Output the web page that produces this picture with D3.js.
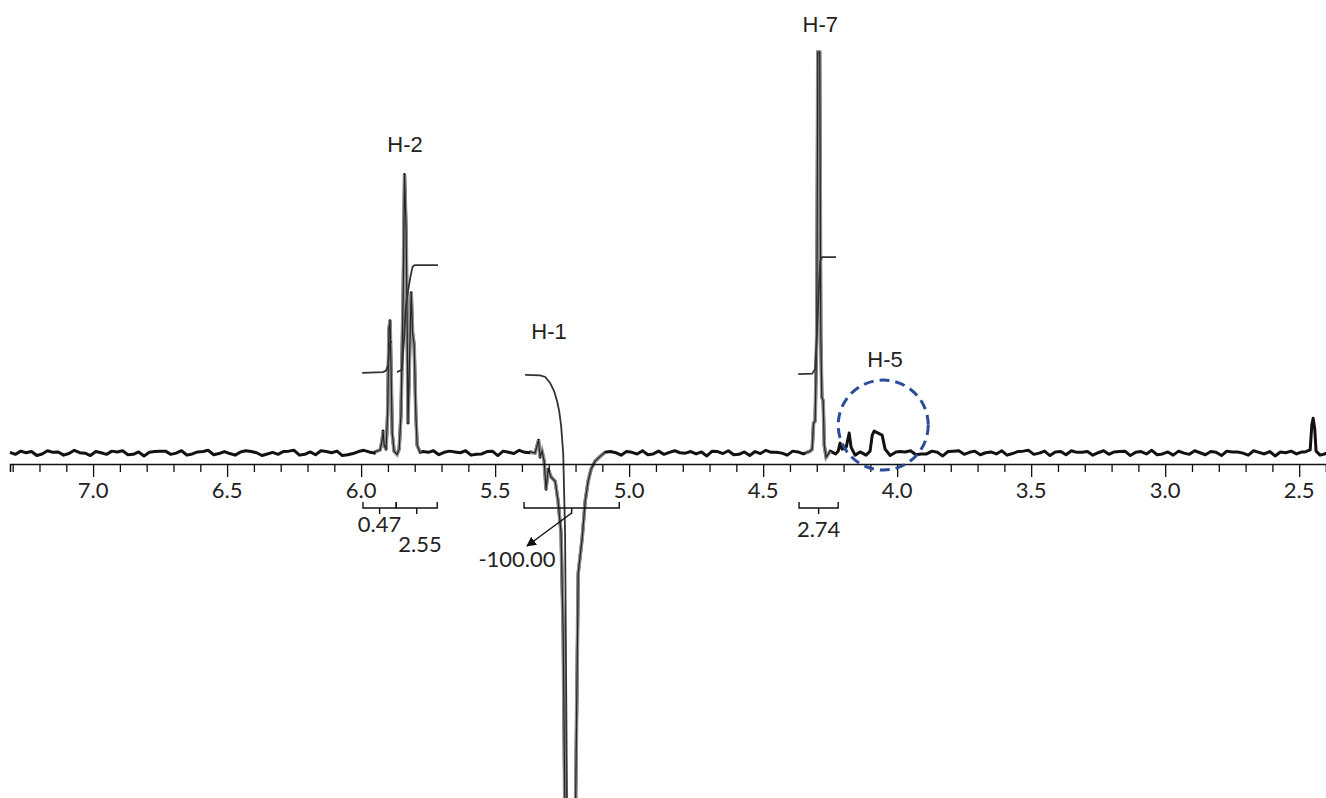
<!DOCTYPE html>
<html>
<head>
<meta charset="utf-8">
<script src="https://cdn.jsdelivr.net/npm/d3@7"></script>
<style>
  body { margin: 0; background: #fff; }
  svg { display: block; }
  .tick-label, .int-label { font-family: Lato, 'Open Sans', sans-serif; font-size: 22px; fill: #222; }
  .peak-label { font-family: 'Liberation Sans', Arial, sans-serif; font-size: 22px; fill: #222; }
</style>
</head>
<body>
<svg width="1326" height="798"></svg>
<script>
// chemical shift window (ppm, reversed) and intensity window
var ppmRange = [7.31, 2.40];
var intRange = [-86, 113];

// baseline noise, one value every 0.02 ppm starting at 7.31 ppm
var noiseStart = 7.31, noiseStep = 0.02;
var noise = [
  0.2,-0.3,0.5,0.1,0.4,-0.6,-0.2,0.6,0.2,0.3,-0.5,-0.1,0.7,0.1,0.0,-0.6,0.4,0.1,-0.3,0.5,
  0.3,0.6,-0.4,-0.3,0.3,-0.7,0.2,0.4,0.5,0.5,-0.3,0.0,0.6,-0.5,-0.2,0.3,0.4,0.7,-0.4,-0.1,
  0.4,-0.1,-0.5,0.3,0.6,0.4,0.1,-0.6,-0.2,0.2,-0.3,0.4,0.5,0.7,-0.5,-0.3,0.3,-0.4,0.6,0.4,
  0.1,0.5,-0.6,-0.4,-0.1,0.4,0.7,0.3,0.0,0.5,-0.5,-0.2,0.6,0.4,0.3,-0.7,-0.1,0.4,0.2,0.6,
  -0.4,0.2,0.5,0.3,0.1,0.6,-0.5,-0.3,-0.2,0.4,0.5,-0.6,0.5,0.2,-0.1,0.7,0.2,0.1,0.4,-0.5,
  0.3,-0.2,0.6,0.4,-0.4,0.5,0.2,-0.6,-0.3,-0.1,0.3,0.7,0.4,0.1,-0.5,0.4,0.2,-0.2,0.6,-0.4,
  -0.2,0.5,-0.3,0.2,0.6,0.1,0.0,0.4,-0.2,0.3,-0.7,0.5,0.4,-0.1,0.6,-0.4,-0.3,0.3,-0.6,0.4,
  -0.1,0.7,0.2,0.2,0.0,-0.5,0.5,0.3,-0.2,0.6,0.3,0.1,0.4,-0.6,-0.2,0.5,0.4,0.3,-0.5,0.6,
  0.0,-0.3,0.4,0.2,-0.6,0.5,0.4,0.3,0.6,-0.4,-0.2,-0.2,0.5,0.2,-0.7,0.4,0.5,0.6,-0.3,0.2,
  0.5,-0.4,0.1,0.3,-0.2,0.6,-0.5,-0.1,0.4,0.5,0.7,-0.3,0.0,0.5,-0.6,0.3,0.4,-0.4,0.6,0.2,
  0.2,0.4,-0.5,0.1,0.6,-0.3,0.3,0.4,0.5,-0.6,0.2,0.4,-0.2,0.7,-0.4,-0.2,0.3,-0.5,0.5,0.0,
  -0.3,0.6,0.1,-0.4,0.4,0.2,-0.6,0.5,0.3,0.3,0.0,-0.5,0.6,0.2,-0.2,0.4,-0.7,0.3,0.1,0.5,
  -0.2,0.3,-0.4,0.6,0.1,-0.3,0.2
];

// signal regions [ppm, intensity]
var h2Peaks = [[5.948,0.3],[5.929,0.8],[5.922,3],[5.918,5.5],[5.914,2],[5.907,1],[5.901,10],
  [5.896,31],[5.892,33],[5.888,20],[5.884,5],[5.877,0.5],[5.866,-0.3],[5.858,1],[5.851,10],
  [5.843,40],[5.838,69.5],[5.832,55],[5.828,30],[5.825,7.5],[5.819,25],[5.813,40],[5.808,30],
  [5.802,27],[5.796,10],[5.791,2],[5.780,0.2]];
var h1Peak = [[5.369,0.3],[5.351,0],[5.343,2],[5.338,3.2],[5.332,-1],[5.325,0.5],[5.317,-2],
  [5.310,-9],[5.302,-4],[5.291,-6],[5.276,-7],[5.265,-12],[5.254,-20],[5.246,-45],[5.239,-95],
  [5.201,-95],[5.190,-30],[5.175,-21],[5.164,-12],[5.153,-7],[5.142,-4],[5.127,-2],[5.108,-0.8],
  [5.090,0.2]];
var h7Peak = [[4.343,0],[4.325,0.5],[4.317,1],[4.312,7.5],[4.306,8],[4.300,30],[4.296,100],
  [4.289,100],[4.285,30],[4.281,14],[4.276,13],[4.272,2],[4.265,-1],[4.250,0.5]];
var h5Peaks = [[4.220,0.5],[4.213,2.5],[4.205,1],[4.190,1.5],[4.179,5],[4.172,1.5],[4.157,-0.5],
  [4.138,0.3],[4.116,-0.5],[4.101,0.5],[4.093,4.5],[4.086,5.5],[4.071,5],[4.056,4.5],[4.045,1],
  [4.026,-0.6],[4.004,0.3]];
var smallPeak = [[2.478,0.3],[2.459,0.8],[2.453,7],[2.448,8.7],[2.442,6],[2.437,0.5],[2.422,-0.5]];
var signals = [h2Peaks, h1Peak, h7Peak, h5Peaks, smallPeak];

// integral traces [ppm, intensity]
var int047 = [[5.996,20],[5.918,20.2],[5.907,20.6],[5.899,22],[5.896,26],[5.892,27.5],[5.885,27.8]];
var int255 = [[5.866,20.2],[5.848,20.8],[5.840,28],[5.834,36],[5.826,40],[5.816,44],[5.808,46.5],
  [5.800,46.9],[5.713,46.9]];
var intH1 = [[5.388,19.5],[5.332,19.4],[5.313,19],[5.295,17.5],[5.280,15.5],[5.269,13],[5.261,10.5],
  [5.254,7],[5.246,0],[5.239,-20],[5.231,-95]];
var intH7 = [[4.369,19.7],[4.317,19.8],[4.306,21],[4.299,30],[4.293,40],[4.287,48],[4.280,48.9],
  [4.228,48.9]];
var integrals = [int047, int255, intH1, intH7];

// integration brackets
var bracketFrom = [5.993, 5.869, 5.392, 4.366];
var bracketTo = [5.869, 5.716, 5.037, 4.220];
var bracketValues = ['0.47', '2.55', '-100.00', '2.74'];

// peak annotations
var peakNames = ['H-2', 'H-1', 'H-7', 'H-5'];
var peakPpm = [5.836, 5.299, 4.287, 4.045];
var peakLabelInt = [75, 28.4, 105, 21.4];
var circlePpm = 4.052, circleInt = 7;

var svg = d3.select('svg');
var x = d3.scaleLinear().domain(ppmRange).range([10, 1326]);
var y = d3.scaleLinear().domain(intRange).range([798, 0]);
var axisY = 464;

// build spectrum: noise outside signal windows plus signal points
var pts = [];
noise.forEach((v, i) => {
  var p = noiseStart - i * noiseStep;
  var inside = signals.some(s => p <= s[0][0] && p >= s[s.length - 1][0]);
  if (!inside) pts.push([p, v]);
});
signals.forEach(s => s.forEach(d => pts.push(d)));
pts.sort((a, b) => b[0] - a[0]);

var line = d3.line().x(d => x(d[0])).y(d => y(d[1]));

svg.append('path')
  .attr('d', line(pts))
  .attr('fill', 'none')
  .attr('stroke', '#111')
  .attr('stroke-width', 3)
  .attr('stroke-linejoin', 'round');

// peaks drawn with the grey double trace look
svg.selectAll('path.peak')
  .data(signals.slice(0, 3))
  .enter()
  .append('path')
  .attr('class', 'peak')
  .attr('d', d => line(d))
  .attr('fill', 'none')
  .attr('stroke', '#8f8f8f')
  .attr('stroke-width', 3.6);
svg.selectAll('path.peakcore')
  .data(signals.slice(0, 3))
  .enter()
  .append('path')
  .attr('class', 'peakcore')
  .attr('d', d => line(d))
  .attr('fill', 'none')
  .attr('stroke', '#222')
  .attr('stroke-width', 1.2);

// integral curves
svg.selectAll('path.integral')
  .data(integrals)
  .enter()
  .append('path')
  .attr('class', 'integral')
  .attr('d', d => line(d))
  .attr('fill', 'none')
  .attr('stroke', '#333')
  .attr('stroke-width', 1.8);

// axis
var axis = d3.axisBottom(x)
  .tickValues(d3.range(24, 74).map(d => d / 10))
  .tickSize(8)
  .tickFormat('');
var gAxis = svg.append('g')
  .attr('transform', 'translate(0,' + axisY + ')')
  .call(axis);
gAxis.select('.domain').attr('stroke', '#111').attr('stroke-width', 1.6);
gAxis.selectAll('.tick line').attr('stroke', '#111').attr('stroke-width', 1.3)
  .attr('y2', d => Math.abs(d * 2 - Math.round(d * 2)) < 1e-6 ? 13 : 8);

var majors = [7.0, 6.5, 6.0, 5.5, 5.0, 4.5, 4.0, 3.5, 3.0, 2.5];
svg.selectAll('text.tick-label')
  .data(majors)
  .enter()
  .append('text')
  .attr('class', 'tick-label')
  .attr('x', d => x(d))
  .attr('y', 498)
  .attr('text-anchor', 'middle')
  .text(d => d.toFixed(1));

// integration brackets
var by = 508;
var gB = svg.append('g').attr('stroke', '#111').attr('stroke-width', 1.4).attr('fill', 'none');
bracketFrom.forEach((f, i) => {
  var x0 = x(f), x1 = x(bracketTo[i]), xm = (x0 + x1) / 2;
  gB.append('path').attr('d', 'M' + x0 + ',' + (by - 6) + 'V' + by + 'H' + x1 + 'V' + (by - 6));
  gB.append('line').attr('x1', xm).attr('x2', xm).attr('y1', by).attr('y2', by + 6);
});

var labelPos = [[x(5.931), 532], [x(5.780), 552], [517, 567], [x(4.293), 537]];
svg.selectAll('text.int-label')
  .data(bracketValues)
  .enter()
  .append('text')
  .attr('class', 'int-label')
  .attr('x', (d, i) => labelPos[i][0])
  .attr('y', (d, i) => labelPos[i][1])
  .attr('text-anchor', 'middle')
  .text(d => d);

// arrow from the H-1 bracket to its value
svg.append('defs').append('marker')
  .attr('id', 'arr')
  .attr('viewBox', '0 0 10 10')
  .attr('refX', 9).attr('refY', 5)
  .attr('markerWidth', 7).attr('markerHeight', 7)
  .attr('orient', 'auto')
  .append('path').attr('d', 'M0,0L10,5L0,10z').attr('fill', '#111');
var xm1 = (x(5.392) + x(5.037)) / 2;
svg.append('line')
  .attr('x1', xm1).attr('y1', by + 5)
  .attr('x2', 527).attr('y2', 546)
  .attr('stroke', '#111').attr('stroke-width', 1.4)
  .attr('marker-end', 'url(#arr)');

// peak labels
svg.selectAll('text.peak-label')
  .data(peakNames)
  .enter()
  .append('text')
  .attr('class', 'peak-label')
  .attr('x', (d, i) => x(peakPpm[i]))
  .attr('y', (d, i) => y(peakLabelInt[i]))
  .attr('text-anchor', 'middle')
  .text(d => d);

// dashed circle around H-5
svg.append('circle')
  .attr('cx', x(circlePpm))
  .attr('cy', y(circleInt))
  .attr('r', 45)
  .attr('fill', 'none')
  .attr('stroke', '#2b4c9b')
  .attr('stroke-width', 3)
  .attr('stroke-dasharray', '10,6');
</script>
</body>
</html>
